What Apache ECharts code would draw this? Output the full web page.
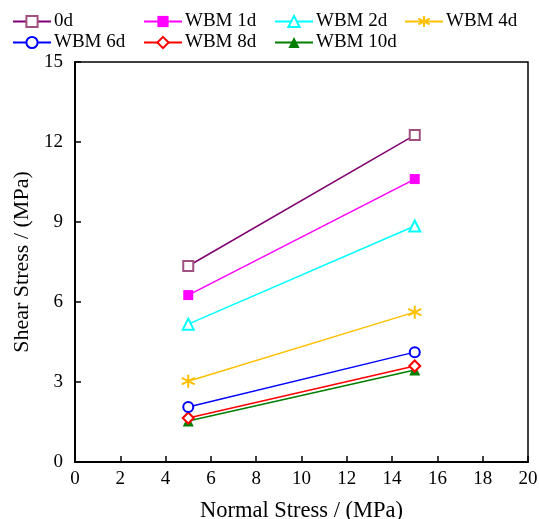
<!DOCTYPE html>
<html><head><meta charset="utf-8">
<script src="https://cdn.jsdelivr.net/npm/echarts@6/dist/echarts.min.js"></script>
<style>html,body{margin:0;padding:0;background:#fff}#c{width:539px;height:519px}</style>
</head><body><div id="c"></div>
<script>
const xValues = [5, 15];
const seriesNames = ['0d', 'WBM 1d', 'WBM 2d', 'WBM 4d', 'WBM 6d', 'WBM 8d', 'WBM 10d'];
const s0d = [7.35, 12.26];
const s1d = [6.26, 10.61];
const s2d = [5.17, 8.85];
const s4d = [3.03, 5.62];
const s6d = [2.06, 4.12];
const s8d = [1.65, 3.60];
const s10d = [1.54, 3.45];
const xTicks = [0, 2, 4, 6, 8, 10, 12, 14, 16, 18, 20];
const yTicks = [0, 3, 6, 9, 12, 15];

const seriesValues = [s0d, s1d, s2d, s4d, s6d, s8d, s10d];
const colors = ['#8B1A6B', '#FF00FF', '#00FFFF', '#FFC000', '#0000FF', '#FF0000', '#007F00'];
const symbols = ['emptyRect', 'rect', 'emptyTriangle',
  'path://M0,-10L0,10M-8.66,-5L8.66,5M-8.66,5L8.66,-5', 'emptyCircle', 'emptyDiamond', 'triangle'];
const sizes = [10, 10, 11, 13, 10, 11, 11];
const font = 'Liberation Serif';

const series = seriesNames.map((n, i) => {
  const isStar = i === 3;
  return {
    name: n, type: 'line',
    data: xValues.map((x, j) => [x, seriesValues[i][j]]),
    symbol: symbols[i], symbolSize: sizes[i],
    lineStyle: { color: i === 0 ? '#800070' : colors[i], width: 1.5 },
    itemStyle: isStar ? { color: 'rgba(0,0,0,0)', borderColor: colors[i], borderWidth: 2 }
      : { color: i === 0 ? '#A05080' : colors[i], borderWidth: 2 },
    z: 10 - i,
    animation: false
  };
});

const legendPos = [[12, 12], [143, 12], [274, 12], [404, 12], [12, 33], [143, 33], [274, 33]];
const legends = seriesNames.map((n, i) => ({
  data: [n], left: legendPos[i][0], top: legendPos[i][1],
  itemWidth: 38, itemHeight: 14, itemGap: 0, padding: 0,
  textStyle: { fontFamily: font, fontSize: 19, color: '#000', padding: [0, 0, 0, -2] }
}));

const chart = echarts.init(document.getElementById('c'));
chart.setOption({
  backgroundColor: '#fff',
  animation: false,
  legend: legends,
  grid: { left: 75, right: 11, top: 62, bottom: 57, show: true, borderColor: '#000', borderWidth: 1.5,
    containLabel: false, outerBoundsMode: 'none' },
  xAxis: {
    type: 'value', min: 0, max: 20, interval: 2,
    name: 'Normal Stress / (MPa)', nameLocation: 'middle', nameGap: 38,
    nameTextStyle: { fontFamily: font, fontSize: 22.5, color: '#000' },
    axisLine: { lineStyle: { color: '#000', width: 2 } },
    axisTick: { inside: true, length: 6, lineStyle: { color: '#000', width: 1.5 } },
    axisLabel: { fontFamily: font, fontSize: 19, color: '#000', margin: 8,
      formatter: v => xTicks.includes(v) ? String(v) : '' },
    splitLine: { show: false }
  },
  yAxis: {
    type: 'value', min: 0, max: 15, interval: 3,
    name: 'Shear Stress / (MPa)', nameLocation: 'middle', nameGap: 42,
    nameTextStyle: { fontFamily: font, fontSize: 22, color: '#000' },
    axisLine: { lineStyle: { color: '#000', width: 2 } },
    axisTick: { inside: true, length: 6, lineStyle: { color: '#000', width: 1.5 } },
    axisLabel: { fontFamily: font, fontSize: 19, color: '#000', margin: 12,
      formatter: v => yTicks.includes(v) ? String(v) : '' },
    splitLine: { show: false }
  },
  series: series
});
</script></body></html>
